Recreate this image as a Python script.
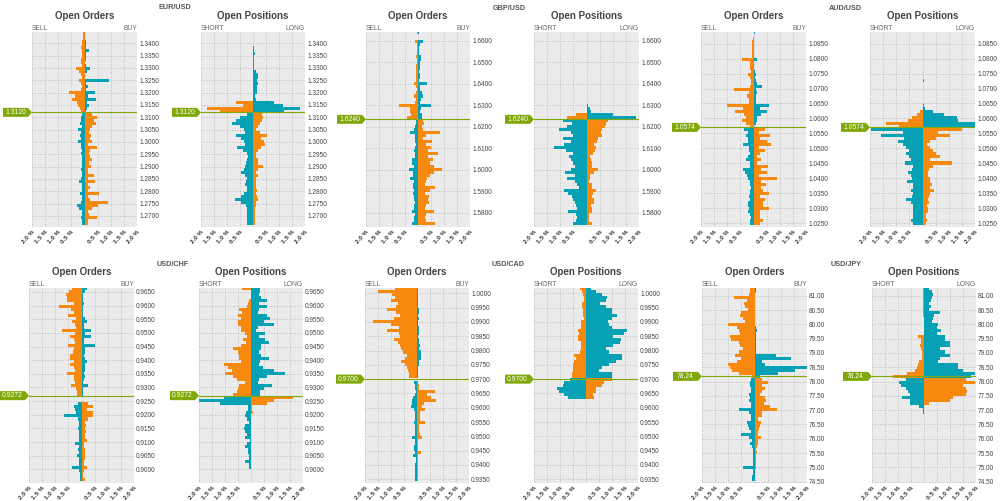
import numpy as np, pandas as pd, matplotlib
matplotlib.use('Agg')
import matplotlib.pyplot as plt, seaborn as sns
from matplotlib.patches import Polygon
from matplotlib.transforms import Affine2D

pairs = ['EUR/USD', 'GBP/USD', 'AUD/USD', 'USD/CHF', 'USD/CAD', 'USD/JPY']
prices = ['1.3120', '1.6240', '1.0574', '0.9272', '0.9700', '78.24']
price_levels = [1.3120, 1.6235, 1.0570, 0.9270, 0.9700, 78.18]
tick_hi = [1.3400, 1.6600, 1.0850, 0.9650, 1.0000, 81.00]
tick_lo = [1.2700, 1.5800, 1.0250, 0.9000, 0.9350, 74.50]
tick_step = [0.005, 0.01, 0.005, 0.005, 0.005, 0.5]
tick_fmt = ['%.4f'] * 5 + ['%.2f']

# values in hundredths of a percent, top row to bottom row
eur_orders_left = [5,5,6,8,10,12,10,8,10,12,14,10,32,22,12,10,22,15,10,14,58,38,48,30,24,18,12,8,12,14,16,10,24,14,16,12,24,14,12,10,12,10,8,9,10,12,10,10,14,20,10,8,10,16,10,10,14,30,22,10,8,12,10,8]
eur_orders_right = [0,2,3,6,5,6,16,5,4,4,3,4,22,8,3,3,92,6,12,6,40,12,43,8,18,10,4,28,47,35,43,28,20,18,25,20,28,15,47,20,18,22,30,18,25,15,12,38,15,40,15,20,15,56,14,20,88,52,30,15,16,47,15,12]
eur_pos_left = [0,0,0,0,0,0,0,0,0,0,0,0,0,0,0,0,0,0,0,0,0,0,0,64,38,178,127,25,50,65,80,50,35,30,67,45,35,30,60,40,22,20,25,28,32,35,45,30,25,28,32,25,22,35,45,70,45,28,25,25,22,25,25,25]
eur_pos_right = [0,0,0,0,0,2,5,8,4,4,3,3,3,10,18,18,16,20,14,16,14,8,10,82,115,180,120,35,40,35,28,20,12,25,55,30,42,45,30,20,12,10,18,20,38,18,12,20,12,10,12,10,14,12,15,18,12,10,8,8,6,6,6,6]

gbp_orders_left = [2,0,0,10,3,3,3,4,6,4,3,6,8,7,6,6,8,14,6,4,6,15,8,10,74,30,30,28,44,6,8,10,14,30,12,10,10,8,10,14,10,12,22,25,14,33,20,20,30,15,20,18,14,18,16,16,12,14,16,24,10,14,16,24]
gbp_orders_right = [4,0,0,20,6,5,4,4,12,10,6,8,6,5,6,8,5,35,8,8,14,18,10,8,51,10,8,16,14,18,22,16,20,85,30,20,55,30,50,40,75,40,58,45,60,91,60,45,35,30,25,66,45,25,44,40,44,30,25,60,30,25,30,65]
gbp_pos_left = [0,0,0,0,0,0,0,0,0,0,0,0,0,0,0,0,0,0,0,0,0,0,0,0,0,0,0,40,76,90,55,75,105,60,50,90,60,85,123,80,50,65,60,50,45,60,83,45,75,45,35,30,86,70,55,50,45,40,35,70,40,35,40,50]
gbp_pos_right = [0,0,0,0,0,0,0,0,0,0,0,0,0,0,0,0,0,0,0,0,0,0,0,0,4,14,19,100,188,80,75,70,60,55,58,45,40,30,35,32,25,15,18,22,20,44,28,15,12,10,20,22,38,25,20,30,28,18,22,22,10,8,8,20]

aud_orders_left = [0,0,3,4,4,6,6,4,4,42,14,14,14,10,22,14,10,8,14,75,18,25,18,18,102,40,70,38,30,42,30,12,38,20,28,22,20,40,18,18,14,20,30,15,14,40,32,25,22,14,12,10,12,14,18,14,20,20,18,20,14,10,12,12]
aud_orders_right = [5,3,2,1,1,0,0,0,1,13,2,1,2,4,8,6,10,15,34,8,12,8,10,8,60,25,50,28,12,12,8,3,45,20,62,25,50,65,20,42,25,15,30,15,55,30,50,20,90,30,48,30,35,60,25,45,35,35,60,25,25,25,36,25]
aud_pos_left = [0,0,0,0,0,0,0,0,0,0,0,0,0,0,0,0,0,0,0,0,0,0,0,0,0,0,8,22,40,55,140,90,195,75,160,70,95,75,62,50,62,50,44,65,38,40,56,44,40,60,38,36,44,38,40,62,44,38,38,36,36,38,44,36]
aud_pos_right = [0,0,0,0,0,0,0,0,0,0,0,0,0,3,0,0,6,0,3,0,0,0,0,3,4,8,40,80,130,135,200,200,150,60,105,50,30,18,30,40,50,65,30,113,40,25,20,20,30,28,38,30,45,30,25,20,25,18,20,22,15,15,18,14]

chf_orders_left = [35,48,58,55,55,30,85,40,28,50,20,38,25,20,76,25,45,30,25,50,30,32,45,42,30,42,30,25,55,30,28,25,40,22,18,18,0,0,12,30,25,20,68,12,8,10,15,10,10,8,10,25,8,14,8,16,10,10,8,35,10,6,6,6]
chf_orders_right = [22,15,6,5,6,10,6,5,5,5,12,22,8,8,35,15,35,10,8,50,15,15,10,15,20,15,15,12,10,12,8,6,25,6,6,5,0,0,25,45,20,45,45,25,15,18,15,18,15,15,22,8,10,15,12,15,15,10,10,20,10,6,4,12]
chf_pos_left = [36,0,0,0,8,10,15,45,35,50,40,50,50,40,40,22,15,30,18,40,71,50,48,45,40,105,90,75,100,70,55,25,45,50,55,70,105,200,120,10,10,20,22,15,8,25,28,25,15,25,5,15,25,10,12,8,6,25,8,8]
chf_pos_right = [35,35,30,40,60,30,62,30,25,62,72,50,88,25,20,55,30,55,70,38,40,30,40,70,35,30,45,90,130,60,30,28,80,50,35,35,160,90,60,5,2,8]

cad_orders_left = [85,150,95,85,100,75,80,115,80,65,90,170,100,70,115,70,65,90,75,65,60,55,40,45,60,45,40,35,30,30,0,10,8,6,4,8,15,20,18,25,10,8,8,6,10,6,6,6,8,20,6,8,10,10,8,14,4,5,8,6,6,8,8,8]
cad_orders_right = [2,3,4,4,4,4,5,8,6,5,6,3,4,6,6,8,4,8,6,12,8,15,15,15,8,6,5,4,3,3,0,5,6,8,70,40,55,72,25,18,30,12,10,10,32,8,6,6,10,20,4,4,3,5,14,4,3,4,3,3,3,3,2,2]
cad_pos_left = [25,15,10,6,6,15,15,12,12,12,8,20,20,18,30,28,30,30,20,20,20,25,45,40,45,50,50,50,55,55,60,85,90,110,105,85,70]
cad_pos_right = [20,40,60,80,75,55,75,100,100,120,100,85,90,100,158,145,105,135,130,105,75,90,140,140,115,90,60,50,100,100,100,70,60,40,40,25,30]

jpy_orders_left = [16,18,20,78,30,40,35,25,50,55,45,35,100,65,60,55,95,90,60,55,45,60,75,50,65,100,95,85,60,10,14,16,18,14,12,22,18,20,14,12,58,20,12,14,28,25,20,14,52,20,10,16,10,6,6,4,4,6,6,42,5,5,8,8]
jpy_orders_right = [4,4,2,2,2,2,2,2,3,3,3,3,3,4,8,6,4,4,4,4,6,4,82,140,30,40,200,155,90,20,30,50,28,40,28,20,40,45,38,60,85,30,30,15,25,20,18,12,15,25,14,12,8,6,8,6,5,4,5,5,3,3,2,2]
jpy_pos_left = [3,3,3,3,3,3,4,4,4,4,0,0,0,0,0,0,22,12,12,14,10,8,8,6,20,22,28,35,65,120,70,95,90,70,60,55,85,55,55,20,5,3]
jpy_pos_right = [20,30,35,30,25,20,25,20,60,40,35,30,55,50,65,50,80,80,100,100,60,80,100,60,55,130,130,150,198,180,160,198,150,160,165,160,110,100,20]

series = [
    (eur_orders_left, eur_orders_right, eur_pos_left, eur_pos_right),
    (gbp_orders_left, gbp_orders_right, gbp_pos_left, gbp_pos_right),
    (aud_orders_left, aud_orders_right, aud_pos_left, aud_pos_right),
    (chf_orders_left, chf_orders_right, chf_pos_left, chf_pos_right),
    (cad_orders_left, cad_orders_right, cad_pos_left, cad_pos_right),
    (jpy_orders_left, jpy_orders_right, jpy_pos_left, jpy_pos_right),
]

# layout in pixels
W, H = 1000, 501
ORANGE, TEAL, GREEN, BG = '#f7890f', '#07a1b6', '#7fa808', '#ebebeb'
row_top = [32, 288]
row_bot = [227, 483]
panel_x = [(32, 137, 201, 305), (366, 470, 534, 639), (701, 806, 870, 975),
           (29, 134, 199, 303), (365, 469, 534, 638), (702, 807, 872, 976)]
tick_px = [(43.3, 216), (41, 212.7), (43.7, 223), (292, 469.3), (293.3, 479.3), (295.7, 481.7)]
pair_x = [175, 509, 845, 173, 508, 846]
pair_y = [7.5, 8, 8, 264, 264.5, 264.5]

sns.set_theme(style='white')
plt.rcParams['font.family'] = ['Liberation Sans', 'DejaVu Sans']
fig = plt.figure(figsize=(W / 100, H / 100), dpi=100, facecolor='white')
N_ROWS = 64
xticks = [-2, -1.5, -1, -0.5, 0, 0.5, 1, 1.5, 2]
xlabels = ['2.0 %', '1.5 %', '1.0 %', '0.5 %', '', '0.5 %', '1.0 %', '1.5 %', '2.0 %']

def panel(x0, x1, top, bot, p1, p2, hi, lo, step, fmt, price, label, left, right, title, ltxt, rtxt):
    ax = fig.add_axes([x0 / W, 1 - bot / H, (x1 - x0) / W, (bot - top) / H])
    scale = (hi - lo) / (p2 - p1)
    ymax = hi + (p1 - top) * scale
    ymin = lo - (bot - p2) * scale
    levels = ymax - np.arange(N_ROWS) * (ymax - ymin) / N_ROWS
    rows = []
    for lv, v in zip(levels, left):
        rows.append((lv, -v / 100, 'o' if lv > price else 't'))
    for lv, v in zip(levels, right):
        rows.append((lv, v / 100, 't' if lv > price else 'o'))
    df = pd.DataFrame(rows, columns=['price', 'value', 'kind'])
    sns.barplot(data=df, x='value', y='price', hue='kind', palette={'o': ORANGE, 't': TEAL},
                orient='y', native_scale=True, dodge=False, width=1.0, saturation=1,
                errorbar=None, legend=False, linewidth=0, ax=ax, zorder=3)
    ax.set_facecolor(BG)
    ax.set_xlim(-2, 2)
    ax.set_ylim(ymin, ymax)
    ax.set_xlabel(''); ax.set_ylabel('')
    yt = np.arange(lo, hi + step / 2, step)
    ax.set_yticks(yt)
    ax.set_yticklabels([fmt % v for v in yt])
    ax.yaxis.tick_right()
    ax.set_xticks(xticks)
    ax.set_xticklabels(xlabels, rotation=48, ha='right', rotation_mode='anchor', fontweight='bold')
    ax.tick_params(axis='x', length=0, pad=1.5, labelsize=4.6, colors='#333333')
    ax.tick_params(axis='y', length=0, pad=1.5, labelsize=4.7, colors='#444444')
    ax.grid(True, color='#bdbdbd', linestyle=':', linewidth=0.7, zorder=1)
    ax.set_axisbelow(True)
    for s in ax.spines.values():
        s.set_visible(False)
    ax.axhline(price, color=GREEN, lw=0.8, zorder=4)
    px, py = ax.get_yaxis_transform().transform((0, price))
    ax.add_patch(Polygon([(-29, -4.5), (-4, -4.5), (0, 0), (-4, 4.5), (-29, 4.5)], closed=True,
                         transform=Affine2D().translate(px, py), fc=GREEN, ec='none',
                         clip_on=False, zorder=5))
    fig.text((x0 - 16.5) / W, py / H, label, color='white', fontsize=4.9, ha='center', va='center', zorder=6)
    cx = (x0 + x1) / 2
    fig.text(cx / W, 1 - (top - 16) / H, title, fontsize=7.0, fontweight='bold', color='#444444', ha='center', va='center')
    fig.text(x0 / W, 1 - (top - 4) / H, ltxt, fontsize=4.9, color='#666666', ha='left', va='center')
    fig.text(x1 / W, 1 - (top - 4) / H, rtxt, fontsize=4.9, color='#666666', ha='right', va='center')

for i, pair in enumerate(pairs):
    r = i // 3
    a, b, c, d = panel_x[i]
    p1, p2 = tick_px[i]
    ol, or_, pl, pr = series[i]
    common = (row_top[r], row_bot[r], p1, p2, tick_hi[i], tick_lo[i], tick_step[i], tick_fmt[i], price_levels[i], prices[i])
    panel(a, b, *common, ol, or_, 'Open Orders', 'SELL', 'BUY')
    panel(c, d, *common, pl, pr, 'Open Positions', 'SHORT', 'LONG')
    fig.text(pair_x[i] / W, 1 - pair_y[i] / H, pair, fontsize=5.2, fontweight='bold', color='#555555', ha='center', va='center')

fig.savefig('out.png', dpi=100)
